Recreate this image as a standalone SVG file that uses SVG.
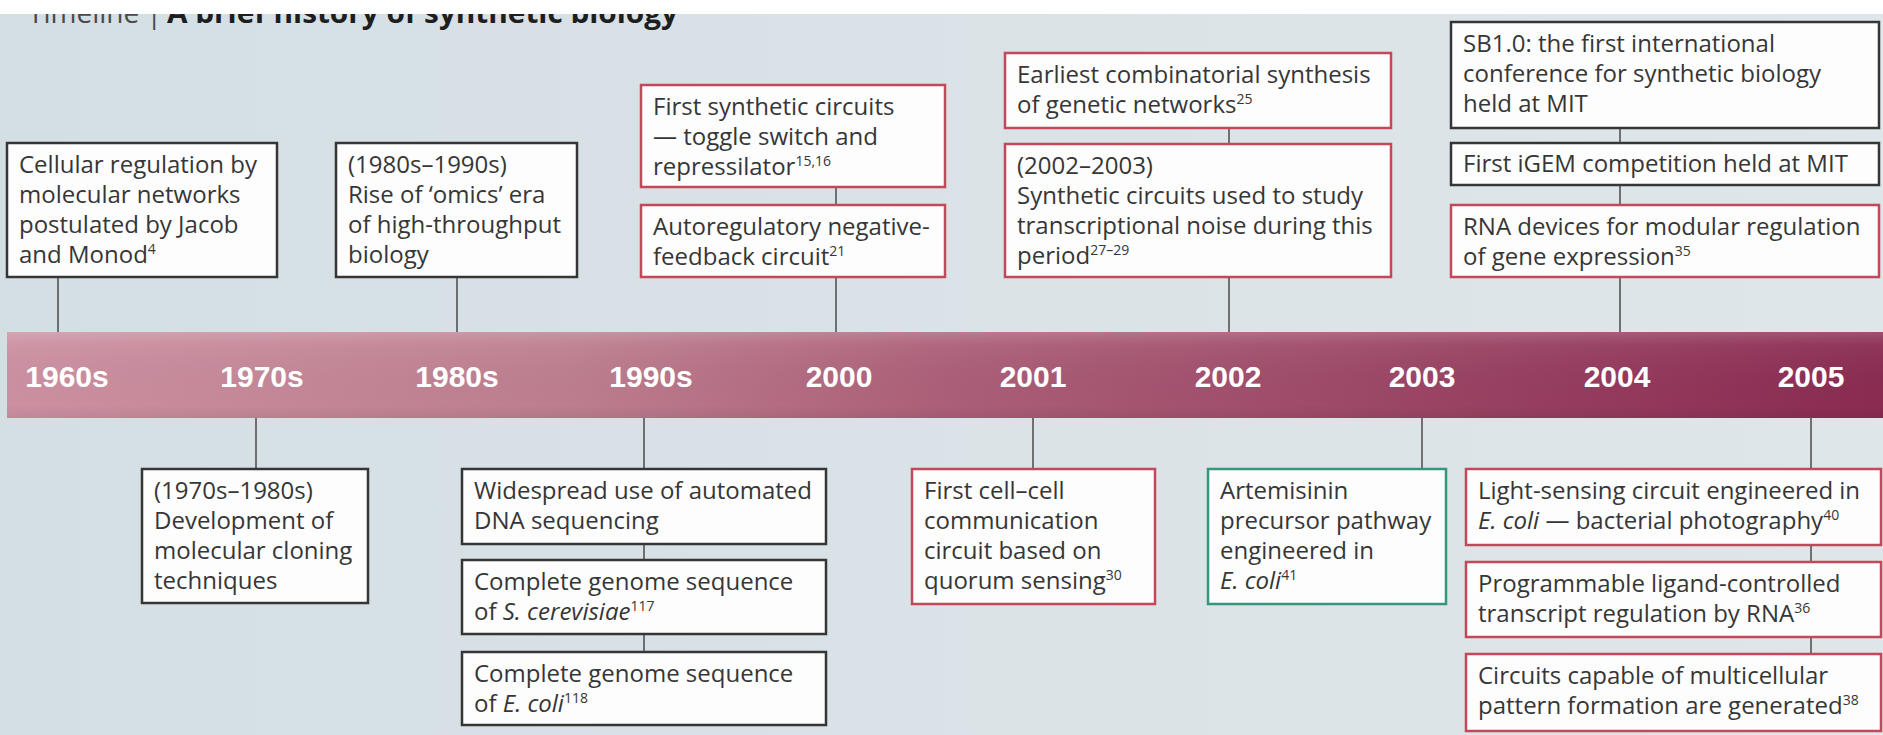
<svg xmlns="http://www.w3.org/2000/svg" width="1883" height="735" viewBox="0 0 1883 735">
<defs>
<linearGradient id="bg" x1="0" y1="0" x2="1" y2="0">
<stop offset="0" stop-color="#d4dfe4"/>
<stop offset="1" stop-color="#dfe6e9"/>
</linearGradient>
<linearGradient id="bar" x1="0" y1="0" x2="1" y2="0">
<stop offset="0" stop-color="#cc90a1"/>
<stop offset="0.3" stop-color="#bd7e8f"/>
<stop offset="0.5" stop-color="#ac5f78"/>
<stop offset="0.75" stop-color="#9b4565"/>
<stop offset="1" stop-color="#8a2b52"/>
</linearGradient>
<linearGradient id="barv" x1="0" y1="0" x2="0" y2="1">
<stop offset="0" stop-color="#ffffff" stop-opacity="0.18"/>
<stop offset="0.15" stop-color="#ffffff" stop-opacity="0.05"/>
<stop offset="0.85" stop-color="#000000" stop-opacity="0"/>
<stop offset="1" stop-color="#000000" stop-opacity="0.06"/>
</linearGradient>
<clipPath id="titleclip"><rect x="0" y="14" width="1883" height="30"/></clipPath>
</defs>
<style>
.box{fill:#fdfdfd;stroke-width:2.5}
.blk{stroke:#363636}
.red{stroke:#c4485a}
.grn{stroke:#34977a}
.t{font-family:"Open Sans","Liberation Sans",sans-serif;font-size:24px;fill:#363636}
.i{font-style:italic}
.sup{font-size:14px}
.yr{font-family:"Liberation Sans",Arial,sans-serif;font-weight:bold;font-size:30px;fill:#ffffff;text-anchor:middle}
.conn{stroke:#4a4a4a;stroke-width:1.5;fill:none}
</style>
<rect x="0" y="0" width="1883" height="735" fill="#ffffff"/>
<rect x="0" y="14" width="1883" height="721" fill="url(#bg)"/>
<g id="title" clip-path="url(#titleclip)">
<text x="28" y="23" font-family="Open Sans, Liberation Sans, sans-serif" font-size="28" fill="#4a4a4a">Timeline |</text>
<text x="167" y="23" font-family="Open Sans, Liberation Sans, sans-serif" font-size="29" font-weight="bold" fill="#1e1e1e" textLength="511" lengthAdjust="spacingAndGlyphs">A brief history of synthetic biology</text>
</g>
<g id="timeline-bar">
<rect x="7" y="332" width="1876" height="86" fill="url(#bar)"/>
<rect x="7" y="332" width="1876" height="86" fill="url(#barv)"/>
<text class="yr" x="67" y="387">1960s</text>
<text class="yr" x="262" y="387">1970s</text>
<text class="yr" x="457" y="387">1980s</text>
<text class="yr" x="651" y="387">1990s</text>
<text class="yr" x="839" y="387">2000</text>
<text class="yr" x="1033" y="387">2001</text>
<text class="yr" x="1228" y="387">2002</text>
<text class="yr" x="1422" y="387">2003</text>
<text class="yr" x="1617" y="387">2004</text>
<text class="yr" x="1811" y="387">2005</text>
</g>
<g id="connectors">
<line class="conn" x1="58" y1="277" x2="58" y2="332"/>
<line class="conn" x1="457" y1="277" x2="457" y2="332"/>
<line class="conn" x1="836" y1="187" x2="836" y2="332"/>
<line class="conn" x1="1229" y1="128" x2="1229" y2="332"/>
<line class="conn" x1="1620" y1="128" x2="1620" y2="332"/>
<line class="conn" x1="256" y1="418" x2="256" y2="469"/>
<line class="conn" x1="644" y1="418" x2="644" y2="652"/>
<line class="conn" x1="1033" y1="418" x2="1033" y2="469"/>
<line class="conn" x1="1422" y1="418" x2="1422" y2="469"/>
<line class="conn" x1="1811" y1="418" x2="1811" y2="654"/>
</g>
<g id="n1960s">
<rect class="box blk" x="7" y="143" width="270" height="134"/>
<text class="t" x="19" y="173">Cellular regulation by</text>
<text class="t" x="19" y="203">molecular networks</text>
<text class="t" x="19" y="233">postulated by Jacob</text>
<text class="t" x="19" y="263">and Monod<tspan class="sup" dy="-9">4</tspan></text>
</g>
<g id="n1980s">
<rect class="box blk" x="336" y="143" width="241" height="134"/>
<text class="t" x="348" y="173">(1980s–1990s)</text>
<text class="t" x="348" y="203">Rise of ‘omics’ era</text>
<text class="t" x="348" y="233">of high-throughput</text>
<text class="t" x="348" y="263">biology</text>
</g>
<g id="n2000a">
<rect class="box red" x="641" y="85" width="304" height="102"/>
<text class="t" x="653" y="115">First synthetic circuits</text>
<text class="t" x="653" y="145">— toggle switch and</text>
<text class="t" x="653" y="175">repressilator<tspan class="sup" dy="-9">15,16</tspan></text>
</g>
<g id="n2000b">
<rect class="box red" x="641" y="205" width="304" height="72"/>
<text class="t" x="653" y="235">Autoregulatory negative-</text>
<text class="t" x="653" y="265">feedback circuit<tspan class="sup" dy="-9">21</tspan></text>
</g>
<g id="n2002a">
<rect class="box red" x="1005" y="53" width="386" height="75"/>
<text class="t" x="1017" y="83">Earliest combinatorial synthesis</text>
<text class="t" x="1017" y="113">of genetic networks<tspan class="sup" dy="-9">25</tspan></text>
</g>
<g id="n2002b">
<rect class="box red" x="1005" y="144" width="386" height="133"/>
<text class="t" x="1017" y="174">(2002–2003)</text>
<text class="t" x="1017" y="204">Synthetic circuits used to study</text>
<text class="t" x="1017" y="234">transcriptional noise during this</text>
<text class="t" x="1017" y="264">period<tspan class="sup" dy="-9">27–29</tspan></text>
</g>
<g id="n2004a">
<rect class="box blk" x="1451" y="22" width="428" height="106"/>
<text class="t" x="1463" y="52">SB1.0: the first international</text>
<text class="t" x="1463" y="82">conference for synthetic biology</text>
<text class="t" x="1463" y="112">held at MIT</text>
</g>
<g id="n2004b">
<rect class="box blk" x="1451" y="143" width="428" height="42"/>
<text class="t" x="1463" y="172">First iGEM competition held at MIT</text>
</g>
<g id="n2004c">
<rect class="box red" x="1451" y="205" width="428" height="72"/>
<text class="t" x="1463" y="235">RNA devices for modular regulation</text>
<text class="t" x="1463" y="265">of gene expression<tspan class="sup" dy="-9">35</tspan></text>
</g>
<g id="n1970s">
<rect class="box blk" x="142" y="469" width="226" height="134"/>
<text class="t" x="154" y="499">(1970s–1980s)</text>
<text class="t" x="154" y="529">Development of</text>
<text class="t" x="154" y="559">molecular cloning</text>
<text class="t" x="154" y="589">techniques</text>
</g>
<g id="n1990sa">
<rect class="box blk" x="462" y="469" width="364" height="75"/>
<text class="t" x="474" y="499">Widespread use of automated</text>
<text class="t" x="474" y="529">DNA sequencing</text>
</g>
<g id="n1990sb">
<rect class="box blk" x="462" y="560" width="364" height="74"/>
<text class="t" x="474" y="590">Complete genome sequence</text>
<text class="t" x="474" y="620">of <tspan class="i">S. cerevisiae</tspan><tspan class="sup" dy="-9">117</tspan></text>
</g>
<g id="n1990sc">
<rect class="box blk" x="462" y="652" width="364" height="73"/>
<text class="t" x="474" y="682">Complete genome sequence</text>
<text class="t" x="474" y="712">of <tspan class="i">E. coli</tspan><tspan class="sup" dy="-9">118</tspan></text>
</g>
<g id="n2001">
<rect class="box red" x="912" y="469" width="243" height="135"/>
<text class="t" x="924" y="499">First cell–cell</text>
<text class="t" x="924" y="529">communication</text>
<text class="t" x="924" y="559">circuit based on</text>
<text class="t" x="924" y="589">quorum sensing<tspan class="sup" dy="-9">30</tspan></text>
</g>
<g id="n2003">
<rect class="box grn" x="1208" y="469" width="238" height="135"/>
<text class="t" x="1220" y="499">Artemisinin</text>
<text class="t" x="1220" y="529">precursor pathway</text>
<text class="t" x="1220" y="559">engineered in</text>
<text class="t" x="1220" y="589"><tspan class="i">E. coli</tspan><tspan class="sup" dy="-9">41</tspan></text>
</g>
<g id="n2005a">
<rect class="box red" x="1466" y="469" width="415" height="76"/>
<text class="t" x="1478" y="499">Light-sensing circuit engineered in</text>
<text class="t" x="1478" y="529"><tspan class="i">E. coli</tspan> — bacterial photography<tspan class="sup" dy="-9">40</tspan></text>
</g>
<g id="n2005b">
<rect class="box red" x="1466" y="562" width="415" height="75"/>
<text class="t" x="1478" y="592">Programmable ligand-controlled</text>
<text class="t" x="1478" y="622">transcript regulation by RNA<tspan class="sup" dy="-9">36</tspan></text>
</g>
<g id="n2005c">
<rect class="box red" x="1466" y="654" width="415" height="77"/>
<text class="t" x="1478" y="684">Circuits capable of multicellular</text>
<text class="t" x="1478" y="714">pattern formation are generated<tspan class="sup" dy="-9">38</tspan></text>
</g>
</svg>
